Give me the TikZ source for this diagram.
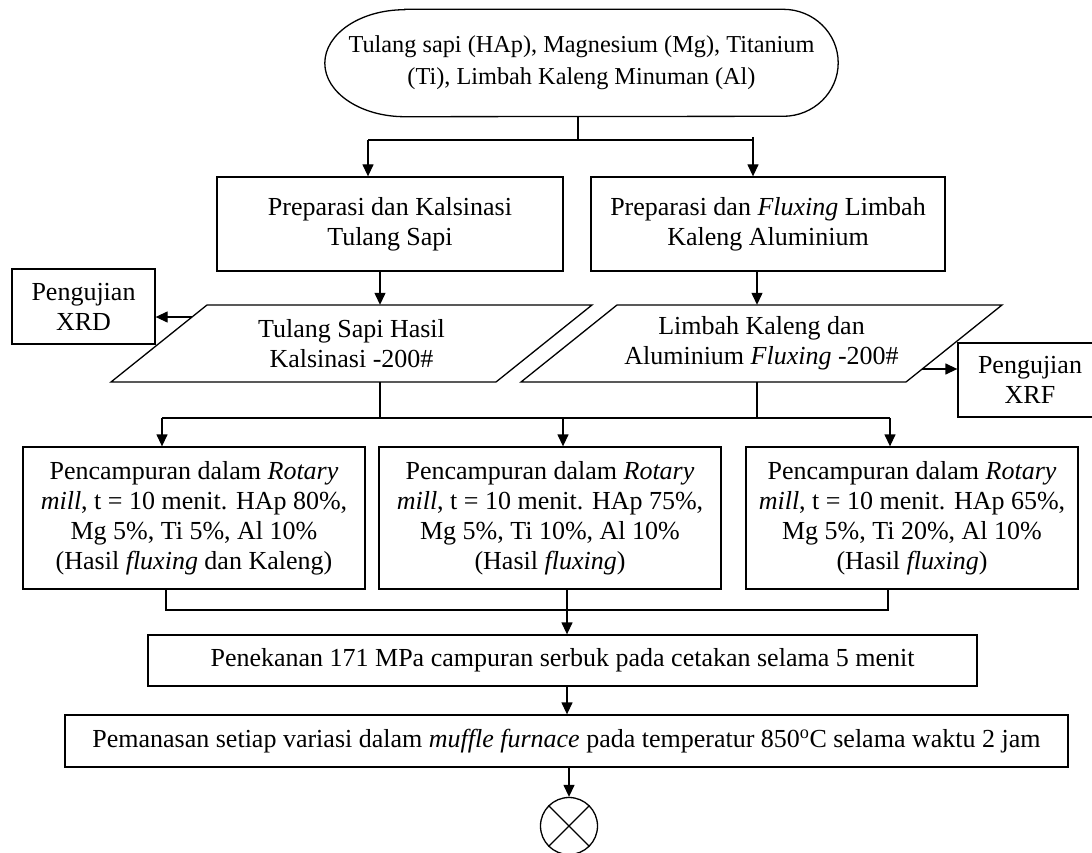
\documentclass[tikz,border=0pt]{standalone}
\usepackage{fontspec}
\setmainfont{Liberation Serif}
\usetikzlibrary{arrows.meta,calc}
\begin{document}
\begin{tikzpicture}[x=1pt,y=1pt,
  every node/.style={font=\fontsize{26}{30}\selectfont, align=center, inner sep=0pt},
  box/.style={draw, line width=1.3pt},
  ln/.style={line width=1.3pt},
  arr/.style={line width=1.3pt,-{Triangle[length=12pt,width=11pt]}}]
\useasboundingbox (0,0) rectangle (1092,-853);

% start terminator
\node[minimum width=513pt, minimum height=107pt, font=\fontsize{24.3}{32}\selectfont] (start) at (581.5,-63)
  {Tulang sapi (HAp), Magnesium (Mg), Titanium\\(Ti), Limbah Kaleng Minuman (Al)};
\draw[ln] ([xshift=80pt]start.north west) -- ([xshift=-55pt]start.north east)
  arc[start angle=90, end angle=-90, x radius=55pt, y radius=53.5pt]
  -- ([xshift=80pt]start.south west)
  arc[start angle=270, end angle=90, x radius=80pt, y radius=53.5pt] -- cycle;

% preparation boxes
\node[box, minimum width=346pt, minimum height=94pt] (prepA) at (390,-224)
  {Preparasi dan Kalsinasi\\Tulang Sapi};
\node[box, minimum width=354pt, minimum height=94pt] (prepB) at (768,-224)
  {Preparasi dan \textit{Fluxing} Limbah\\Kaleng Aluminium};

% parallelograms
\node[minimum width=385pt, minimum height=77pt] (p1) at (351.5,-343.5)
  {Tulang Sapi Hasil\\Kalsinasi -200\#};
\draw[ln] ($(p1.center)+(-144.5,38.5)$) -- ++(385,0) -- ++(-96,-77) -- ++(-385,0) -- cycle;
\node[minimum width=385pt, minimum height=77pt] (p2) at (761.5,-343.5)
  {Limbah Kaleng dan\\Aluminium \textit{Fluxing} -200\#};
\draw[ln] ($(p2.center)+(-144.5,38.5)$) -- ++(385,0) -- ++(-96,-77) -- ++(-385,0) -- cycle;

% test boxes
\node[box, minimum width=143pt, minimum height=75pt] (xrd) at (83.5,-306.5) {Pengujian\\XRD};
\node[box, minimum width=144pt, minimum height=74pt] (xrf) at (1030,-380) {Pengujian\\XRF};

% mixing boxes
\node[box, minimum width=342pt, minimum height=142pt] (mix1) at (194,-518)
  {Pencampuran dalam \textit{Rotary}\\\textit{mill}, t = 10 menit. HAp 80\%,\\Mg 5\%, Ti 5\%, Al 10\%\\(Hasil \textit{fluxing} dan Kaleng)};
\node[box, minimum width=342pt, minimum height=142pt] (mix2) at (550,-518)
  {Pencampuran dalam \textit{Rotary}\\\textit{mill}, t = 10 menit. HAp 75\%,\\Mg 5\%, Ti 10\%, Al 10\%\\(Hasil \textit{fluxing})};
\node[box, minimum width=332pt, minimum height=142pt] (mix3) at (912,-518)
  {Pencampuran dalam \textit{Rotary}\\\textit{mill}, t = 10 menit. HAp 65\%,\\Mg 5\%, Ti 20\%, Al 10\%\\(Hasil \textit{fluxing})};

% press and heat
\node[box, minimum width=829pt, minimum height=51pt] (press) at (562.5,-660.5)
  {Penekanan 171 MPa campuran serbuk pada cetakan selama 5 menit};
\node[box, minimum width=1003pt, minimum height=52pt] (heat) at (566.5,-741)
  {Pemanasan setiap variasi dalam \textit{muffle furnace} pada temperatur 850\textsuperscript{o}C selama waktu 2 jam};

% end connector
\node[draw, circle, line width=1.3pt, minimum size=57pt] (end) at (569,-826) {};
\draw[ln] (end.north east) -- (end.south west);
\draw[ln] (end.north west) -- (end.south east);

% junction coordinates
\coordinate (jtop) at (578,-140);
\coordinate (jA) at (368,-140);
\coordinate (jB) at (753,-140);
\coordinate (cA) at (380,-300);
\coordinate (cB) at (757,-300);
\coordinate (xo) at (192,-317);
\coordinate (fo) at (922,-369);
\coordinate (d1) at (162,-418);
\coordinate (d2) at (563,-418);
\coordinate (d3) at (890,-418);
\coordinate (m1) at (166,-610);
\coordinate (m2) at (567,-610);
\coordinate (m3) at (888,-610);

% connectors
\draw[ln] (start.south -| jtop) -- (jtop);
\draw[ln] (jA) -- (jB);
\draw[arr] (jA) -- (jA |- prepA.north);
\draw[arr] ([yshift=3pt]jB) -- (jB |- prepB.north);
\draw[arr] (prepA.south -| cA) -- (p1.north -| cA);
\draw[arr] (prepB.south -| cB) -- (p2.north -| cB);
\draw[arr] (xo) -- (xo -| xrd.east);
\draw[arr] (fo) -- (fo -| xrf.west);
\draw[ln] (p1.south -| cA) -- (cA |- d1);
\draw[ln] (p2.south -| cB) -- (cB |- d1);
\draw[ln] (d1) -- (d3);
\draw[arr] (d1) -- (d1 |- mix1.north);
\draw[arr] (d2) -- (d2 |- mix2.north);
\draw[arr] (d3) -- (d3 |- mix3.north);
\draw[ln] (mix1.south -| m1) -- (m1) -- (m3) -- (mix3.south -| m3);
\draw[arr] (mix2.south -| m2) -- (m2 |- press.north);
\draw[arr] (press.south -| m2) -- (heat.north -| m2);
\draw[arr] (heat.south -| end) -- (end.north);
\end{tikzpicture}
\end{document}
